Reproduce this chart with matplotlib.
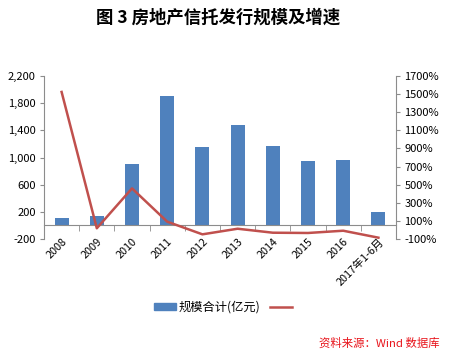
import matplotlib
matplotlib.use("Agg")
import matplotlib.pyplot as plt
from matplotlib.ticker import FuncFormatter, FixedLocator
from matplotlib.lines import Line2D
from matplotlib.patches import Patch

plt.rcParams['font.family'] = ['Noto Sans CJK SC', 'DejaVu Sans']

categories = ['2008', '2009', '2010', '2011', '2012', '2013', '2014', '2015', '2016', '2017年1-6月']
scale = [115, 140, 905, 1910, 1158, 1480, 1170, 950, 965, 198]        # 亿元
growth = [1525, 18, 459, 91, -49, 13, -31, -34, -9, -86]               # %

title = '图 3 房地产信托发行规模及增速'
bar_label = '规模合计(亿元)'
source = '资料来源：Wind 数据库'

bar_color = '#4F81BD'
line_color = '#C0504D'
axis_color = '#8C8C8C'

fig = plt.figure(figsize=(4.49, 3.54), dpi=100)
ax = fig.add_axes([0.098, 0.325, 0.784, 0.46])
x = list(range(len(categories)))

ax.bar(x, scale, width=0.4, color=bar_color, zorder=2)
ax.set_xlim(-0.5, len(categories) - 0.5)
ax.set_ylim(-200, 2200)
ax.set_yticks(range(-200, 2201, 400))
ax.yaxis.set_major_formatter(FuncFormatter(lambda v, p: f'{int(v):,}'))

ax.spines['top'].set_visible(False)
ax.spines['right'].set_visible(False)
ax.spines['left'].set_color(axis_color)
ax.spines['bottom'].set_position(('data', 0))
ax.spines['bottom'].set_color(axis_color)

ax.set_xticks(x)
ax.set_xticklabels(categories, rotation=45, ha='right', rotation_mode='anchor')
ax.xaxis.set_minor_locator(FixedLocator([i + 0.5 for i in range(len(categories) - 1)] + [-0.5]))
ax.tick_params(axis='x', which='major', length=0, pad=8, labelsize=7.8)
ax.tick_params(axis='x', which='minor', length=4, color=axis_color, direction='out')
ax.tick_params(axis='y', length=3, color=axis_color, labelsize=8, pad=3)

ax2 = ax.twinx()
ax2.plot(x, growth, color=line_color, linewidth=1.8, zorder=3)
ax2.set_ylim(-100, 1700)
ax2.set_yticks(range(-100, 1701, 200))
ax2.yaxis.set_major_formatter(FuncFormatter(lambda v, p: f'{int(v)}%'))
for s in ['top', 'bottom', 'left']:
    ax2.spines[s].set_visible(False)
ax2.spines['right'].set_color(axis_color)
ax2.tick_params(axis='y', length=3, color=axis_color, labelsize=8, pad=3)

fig.text(0.486, 0.949, title, ha='center', va='center', fontsize=12.5, fontweight='bold')

handles = [Patch(color=bar_color), Line2D([], [], color=line_color, linewidth=1.8)]
fig.legend(handles, [bar_label, ''], loc='center', bbox_to_anchor=(0.5, 0.133), ncol=2,
           frameon=False, fontsize=8.8, handlelength=1.8, handleheight=0.5,
           handletextpad=0.2, columnspacing=0.8)

fig.text(0.98, 0.031, source, ha='right', va='center', fontsize=8.2, color='#E8141B')

fig.savefig('out.png', dpi=100)
